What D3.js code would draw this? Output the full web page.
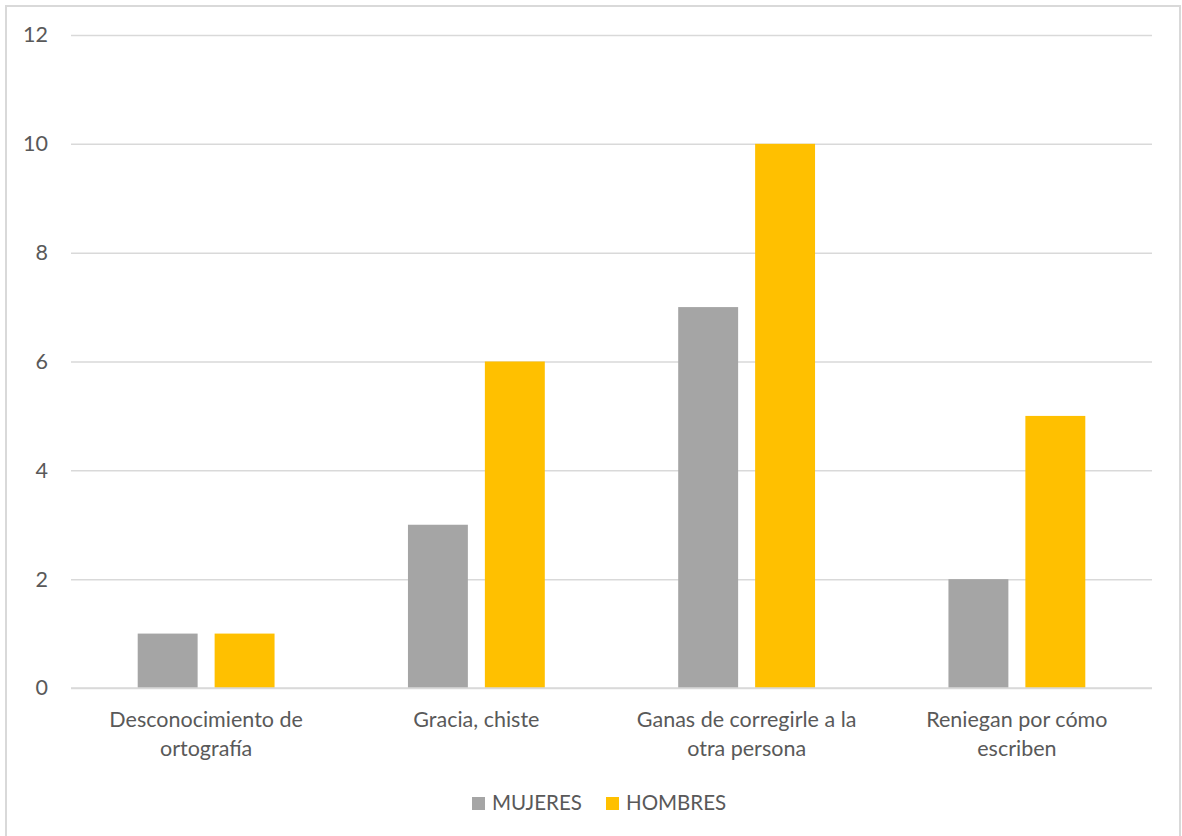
<!DOCTYPE html>
<html><head><meta charset="utf-8">
<script src="https://cdn.jsdelivr.net/npm/d3@7"></script>
<style>body{margin:0;background:#fff;}svg{display:block;}</style>
</head><body>
<svg id="c" width="1182" height="836"></svg>
<script>
const categories = [["Desconocimiento de","ortografía"],["Gracia, chiste"],["Ganas de corregirle a la","otra persona"],["Reniegan por cómo","escriben"]];
const seriesNames = ["MUJERES","HOMBRES"];
const mujeres = [1,3,7,2];
const hombres = [1,6,10,5];
const yTicks = [0,2,4,6,8,10,12];
const colors = ["#a5a5a5","#ffc000"];

const svg = d3.select("#c");
const font = "Lato, 'Open Sans', sans-serif";
svg.append("rect").attr("x",6).attr("y",6).attr("width",1174).attr("height",840)
  .attr("fill","#fff").attr("stroke","#d9d9d9").attr("stroke-width",2);

const L=71, R=1152, T=35, B=688;
const catKeys = categories.map((d,i)=>i);
const x0 = d3.scaleBand().domain(catKeys).range([L,R]).padding(0);
const bw = x0.bandwidth();
const x1 = d3.scaleBand().domain(seriesNames).range([bw*0.2468, bw*0.7532]).paddingInner(0.221).paddingOuter(0);
const y = d3.scaleLinear().domain([0,12]).range([B,T]);

const yAxis = d3.axisLeft(y).tickValues(yTicks).tickSize(-(R-L)).tickPadding(23).tickFormat(d3.format("d"));
const gy = svg.append("g").attr("transform",`translate(${L},0)`).call(yAxis);
gy.select(".domain").remove();
gy.selectAll(".tick line").attr("stroke","#d9d9d9").attr("stroke-width",1.5);
gy.selectAll(".tick text").attr("fill","#595959").attr("font-family",font).attr("font-size",21.5);

const data = categories.map((c,i)=>({i, vals:[mujeres[i],hombres[i]]}));
const g = svg.append("g");
data.forEach(d=>{
  d.vals.forEach((v,j)=>{
    g.append("rect")
      .attr("x", x0(d.i)+x1(seriesNames[j]))
      .attr("width", x1.bandwidth())
      .attr("y", y(v))
      .attr("height", y(0)-y(v))
      .attr("fill", colors[j]);
  });
});
svg.append("line").attr("x1",L).attr("x2",R).attr("y1",y(0)).attr("y2",y(0)).attr("stroke","#d9d9d9").attr("stroke-width",1.5);

categories.forEach((lines,i)=>{
  const t = svg.append("text").attr("x", x0(i)+bw/2).attr("y",727)
    .attr("text-anchor","middle").attr("fill","#595959").attr("font-family",font).attr("font-size",21.5);
  lines.forEach((ln,k)=>{
    t.append("tspan").attr("x", x0(i)+bw/2).attr("dy", k===0?0:29).text(ln);
  });
});

const legX = [472, 606];
seriesNames.forEach((s,j)=>{
  svg.append("rect").attr("x",legX[j]).attr("y",797).attr("width",13).attr("height",13).attr("fill",colors[j]);
  svg.append("text").attr("x",legX[j]+20).attr("y",810).attr("fill","#595959")
    .attr("font-family",font).attr("font-size",20.5).text(s);
});
</script>
</body></html>
